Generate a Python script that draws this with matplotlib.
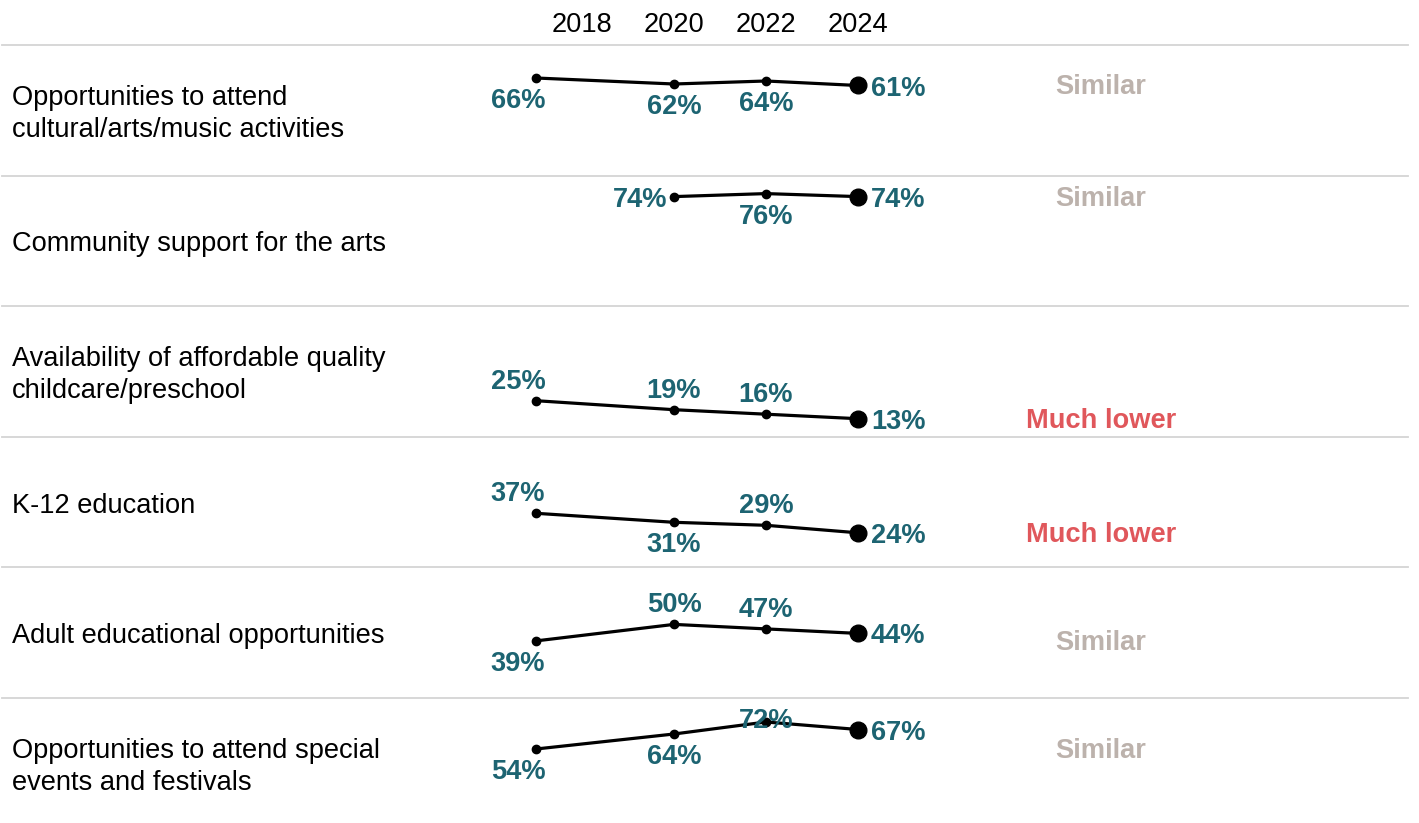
import numpy as np
import matplotlib
matplotlib.use("Agg")
import matplotlib.pyplot as plt

plt.rcParams["font.family"] = ["Liberation Sans", "DejaVu Sans"]

years = [2017, 2020, 2022, 2024]
tick_years = [2018, 2020, 2022, 2024]

topics = [
    "Opportunities to attend\ncultural/arts/music activities",
    "Community support for the arts",
    "Availability of affordable quality\nchildcare/preschool",
    "K-12 education",
    "Adult educational opportunities",
    "Opportunities to attend special\nevents and festivals",
]
cultural = [66, 62, 64, 61]
community = [np.nan, 74, 76, 74]
childcare = [25, 19, 16, 13]
k12 = [37, 31, 29, 24]
adult = [39, 50, 47, 44]
events = [54, 64, 72, 67]
series = [cultural, community, childcare, k12, adult, events]
status = ["Similar", "Similar", "Much lower", "Much lower", "Similar", "Similar"]

# where each label sits relative to its point (last point always to the right)
placement = [
    ["below", "below", "below"],
    [None, "left", "below"],
    ["above", "above", "above"],
    ["above", "below", "above"],
    ["below", "above", "above"],
    ["below", "below", "above"],
]

TEAL = "#1d6472"
status_colors = {"Similar": "#bcb2ac", "Much lower": "#e0575b"}

W, H = 1419, 823
fig = plt.figure(figsize=(W / 100, H / 100), dpi=100)

row_top = 45
row_h = 130.6
ax_left, ax_right = 2, 1408
# x pixel = 674 + 46 * (year - 2020)
xlim = (2020 - (674 - ax_left) / 46, 2020 + (ax_right - 674) / 46)
ylim = (88 - row_h / 1.5, 88)
px_per_pct = row_h / (ylim[1] - ylim[0])
PT = 0.72  # points per pixel at 100 dpi
FS = 19.6

for i, (topic, vals) in enumerate(zip(topics, series)):
    top = row_top + i * row_h
    ax = fig.add_axes([ax_left / W, 1 - (top + row_h) / H,
                       (ax_right - ax_left) / W, row_h / H])
    ax.set_xlim(*xlim)
    ax.set_ylim(*ylim)
    ax.set_xticks([])
    ax.set_yticks([])
    for s in ["left", "right", "bottom"]:
        ax.spines[s].set_visible(False)
    ax.spines["top"].set_color("#d4d4d4")
    ax.spines["top"].set_linewidth(1.3)
    ax.patch.set_alpha(0)

    ax.text(10 / (ax_right - ax_left), 0.5 - 3.5 / row_h, topic, transform=ax.transAxes,
            ha="left", va="center", fontsize=FS, linespacing=1.33)

    vals = np.array(vals, dtype=float)
    ok = ~np.isnan(vals)
    xs = np.array(years)[ok]
    vs = vals[ok]
    ax.plot(xs, vs, color="black", lw=2.3, marker="o", ms=6, zorder=3)
    ax.plot(xs[-1], vs[-1], "o", color="black", ms=12, zorder=4)

    for j in range(3):
        pos = placement[i][j]
        if pos is None:
            continue
        v = vals[j]
        dx = -18 if j == 0 else 0
        if pos == "below":
            ax.annotate(f"{v:.0f}%", (years[j], v), xytext=(dx * PT, -30 * PT),
                        textcoords="offset points", ha="center", va="baseline",
                        fontsize=FS, fontweight="bold", color=TEAL)
        elif pos == "above":
            room = (ylim[1] - v) * px_per_pct - 30
            dy = min(12, room)
            ax.annotate(f"{v:.0f}%", (years[j], v), xytext=(dx * PT, dy * PT),
                        textcoords="offset points", ha="center", va="baseline",
                        fontsize=FS, fontweight="bold", color=TEAL)
        else:
            ax.annotate(f"{v:.0f}%", (years[j], v), xytext=(-7 * PT, -10 * PT),
                        textcoords="offset points", ha="right", va="baseline",
                        fontsize=FS, fontweight="bold", color=TEAL)

    ax.annotate(f"{vals[-1]:.0f}%", (years[-1], vals[-1]), xytext=(13 * PT, -10 * PT),
                textcoords="offset points", ha="left", va="baseline",
                fontsize=FS, fontweight="bold", color=TEAL)

    ax.annotate(status[i], (2029.28, np.nanmin(vals)), xytext=(0, -9 * PT),
                textcoords="offset points", ha="center", va="baseline",
                fontsize=FS, fontweight="bold", color=status_colors[status[i]])

    if i == 0:
        for yr in tick_years:
            ax.annotate(str(yr), (yr, 1), xycoords=("data", "axes fraction"),
                        xytext=(0, 13 * PT), textcoords="offset points",
                        ha="center", va="baseline", fontsize=FS)

fig.savefig("out.png", dpi=100)
